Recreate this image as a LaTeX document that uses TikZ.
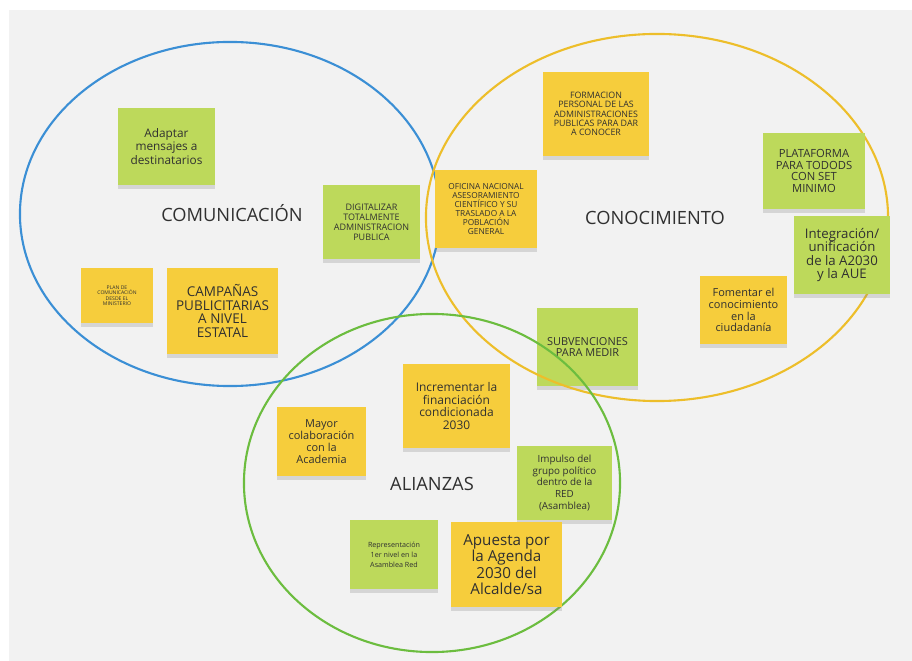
\documentclass[tikz,border=0pt]{standalone}
\usepackage{fontspec}
\setmainfont{Open Sans}
\usepackage{tikz}
\usetikzlibrary{shadows}
\definecolor{bg}{HTML}{F2F2F2}
\definecolor{lime}{HTML}{BDD95B}
\definecolor{gold}{HTML}{F6CD3C}
\definecolor{ink}{HTML}{303030}
\definecolor{ringblue}{HTML}{3B8FD5}
\definecolor{ringgold}{HTML}{EDBE2A}
\definecolor{ringgreen}{HTML}{6CBD3F}
\newcommand{\fs}[2]{\fontsize{#1}{#2}\selectfont}

\begin{document}
\begin{tikzpicture}[x=0.025cm, y=-0.025cm,
    note/.style={inner sep=0pt, align=center, text=ink,
      drop shadow={opacity=0.25, shadow xshift=0pt, shadow yshift=-2.5pt}},
    gnote/.style={note, fill=lime},
    ynote/.style={note, fill=gold},
    sz/.style 2 args={minimum width=#1*0.025cm, minimum height=#2*0.025cm},
    ring/.style={line width=1.5pt},
    title/.style={text=ink, font=\fs{13}{15}}]
  \useasboundingbox (0,0) rectangle (912,661);
  \fill[bg] (9,10) rectangle (912,661);

  % note under the rings
  \node[gnote, sz={101}{78}, font=\fs{7.8}{8}] (subv) at (587.5,347) {SUBVENCIONES\\PARA MEDIR};

  % the three rings
  \draw[ring, ringblue] (230,214) ellipse [x radius=5.25cm, y radius=4.3cm];
  \draw[ring, ringgold] (657,217.5) ellipse [x radius=5.775cm, y radius=4.5875cm];
  \draw[ring, ringgreen] (432,483) ellipse [x radius=4.7cm, y radius=4.225cm];

  % titles
  \node[title] (comunic) at (232,213) {COMUNICACIÓN};
  \node[title] (conoc) at (655,218) {CONOCIMIENTO};
  \node[title] (alianzas) at (432,484) {ALIANZAS};

  % comunicacion
  \node[gnote, sz={97}{77}, font=\fs{8.4}{9.5}] (adapt) at (166.5,146.5) {Adaptar\\mensajes a\\destinatarios};
  \node[ynote, sz={72}{55}, font=\fs{3.6}{3.9}] (plan) at (117,295.5) {PLAN DE\\COMUNICACIÓN\\DESDE EL\\MINISTERIO};
  \node[ynote, sz={111}{86}, font=\fs{9.6}{9.9}] (campanas) at (222.5,311) {CAMPAÑAS\\PUBLICITARIAS\\A NIVEL\\ESTATAL};
  \node[gnote, sz={97}{74}, font=\fs{6.4}{7.1}] (digital) at (371.5,222) {DIGITALIZAR\\TOTALMENTE\\ADMINISTRACION\\PUBLICA};

  % conocimiento
  \node[ynote, sz={102}{78}, font=\fs{5.9}{6.4}] (oficina) at (486,209) {OFICINA NACIONAL\\ASESORAMIENTO\\CIENTÍFICO Y SU\\TRASLADO A LA\\POBLACIÓN\\GENERAL};
  \node[ynote, sz={106}{84}, font=\fs{6.3}{6.6}] (formacion) at (596,114) {FORMACION\\PERSONAL DE LAS\\ADMINISTRACIONES\\PUBLICAS PARA DAR\\A CONOCER};
  \node[gnote, sz={102}{76}, font=\fs{8}{8.2}] (plataf) at (814,171) {PLATAFORMA\\PARA TODODS\\CON SET\\MINIMO};
  \node[gnote, sz={96}{78}, font=\fs{9.4}{9.5}] (integ) at (842,255) {Integración/\\unificación\\de la A2030\\y la AUE};
  \node[ynote, sz={87}{68}, font=\fs{7.8}{8.4}] (fomentar) at (743.5,310) {Fomentar el\\conocimiento\\en la\\ciudadanía};

  % alianzas
  \node[ynote, sz={107}{84}, font=\fs{8.5}{9.2}] (increm) at (456.5,406) {Incrementar la\\financiación\\condicionada\\2030};
  \node[ynote, sz={89}{69}, font=\fs{7.8}{8.5}] (mayor) at (321.5,441.5) {Mayor\\colaboración\\con la\\Academia};
  \node[gnote, sz={95}{74}, font=\fs{7}{8.5}] (impulso) at (564.5,483) {Impulso del\\grupo político\\dentro de la\\RED\\(Asamblea)};
  \node[gnote, sz={88}{69}, font=\fs{5.1}{7.1}] (repres) at (394,554.5) {Representación\\1er nivel en la\\Asamblea Red};
  \node[ynote, sz={111}{85}, font=\fs{10.8}{11.6}] (apuesta) at (506.5,564.5) {Apuesta por\\la Agenda\\2030 del\\Alcalde/sa};
\end{tikzpicture}
\end{document}
